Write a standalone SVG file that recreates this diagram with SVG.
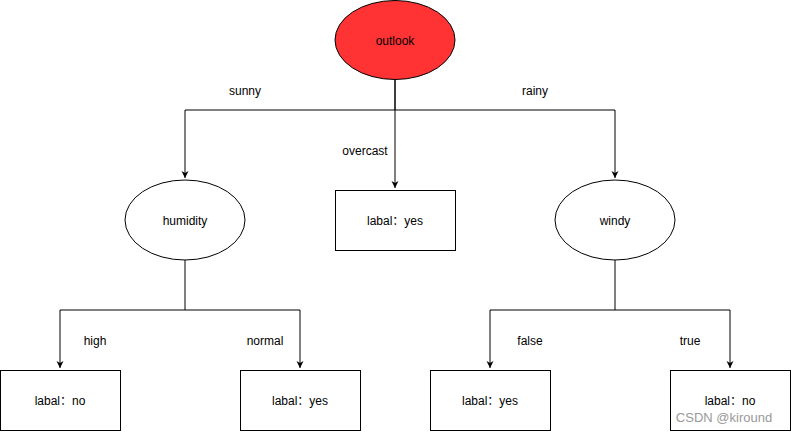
<svg xmlns="http://www.w3.org/2000/svg" width="791" height="432" viewBox="0 0 791 432">
<style>
.n{fill:#fff;stroke:#000;stroke-width:1}
.t{font-family:"Liberation Sans","Noto Sans CJK SC",Arial,sans-serif;font-size:12px;fill:#000;text-anchor:middle;dominant-baseline:central}
.e{fill:none;stroke:#000;stroke-width:1}
.wm{font-family:"Liberation Sans",Arial,sans-serif;font-size:13px;fill:#999;text-anchor:middle;dominant-baseline:central}
</style>
<defs>
<marker id="a" markerWidth="8" markerHeight="8" refX="7" refY="4" orient="auto" markerUnits="userSpaceOnUse">
<path d="M0,0.5 L7,4 L0,7.5 L2,4 Z" fill="#000"/>
</marker>
</defs>
<rect width="791" height="432" fill="#fff"/>
<g id="edges">
<path class="e" d="M395,80 V110 H185 V178" marker-end="url(#a)"/>
<path class="e" d="M395,80 V188" marker-end="url(#a)"/>
<path class="e" d="M395,110 H615 V178" marker-end="url(#a)"/>
<path class="e" d="M185,260 V310 H60 V368" marker-end="url(#a)"/>
<path class="e" d="M185,310 H300 V368" marker-end="url(#a)"/>
<path class="e" d="M615,260 V310 H490 V368" marker-end="url(#a)"/>
<path class="e" d="M615,310 H730 V368" marker-end="url(#a)"/>
<text class="t" x="245" y="91">sunny</text>
<text class="t" x="535" y="91">rainy</text>
<text class="t" x="365" y="151">overcast</text>
<text class="t" x="95" y="341">high</text>
<text class="t" x="265" y="341">normal</text>
<text class="t" x="530" y="341">false</text>
<text class="t" x="690" y="341">true</text>
</g>
<g id="outlook">
<ellipse cx="395" cy="40" rx="60" ry="39.5" fill="#ff3333" stroke="#000"/>
<text class="t" x="395" y="41">outlook</text>
</g>
<g id="humidity">
<ellipse class="n" cx="185" cy="220" rx="60" ry="40"/>
<text class="t" x="185" y="221">humidity</text>
</g>
<g id="overcast-leaf">
<rect class="n" x="335.5" y="190.5" width="120" height="60"/>
<text class="t" x="395" y="221">labal：yes</text>
</g>
<g id="windy">
<ellipse class="n" cx="615" cy="220" rx="60" ry="40"/>
<text class="t" x="615" y="221">windy</text>
</g>
<g id="high-leaf">
<rect class="n" x="0.5" y="370.5" width="120" height="60"/>
<text class="t" x="60" y="401">labal：no</text>
</g>
<g id="normal-leaf">
<rect class="n" x="240.5" y="370.5" width="120" height="60"/>
<text class="t" x="300" y="401">labal：yes</text>
</g>
<g id="false-leaf">
<rect class="n" x="430.5" y="370.5" width="120" height="60"/>
<text class="t" x="490" y="401">labal：yes</text>
</g>
<g id="true-leaf">
<rect class="n" x="670.5" y="370.5" width="120" height="60"/>
<text class="t" x="730" y="401">labal：no</text>
</g>
<text class="wm" x="724" y="417">CSDN @kiround</text>
</svg>
